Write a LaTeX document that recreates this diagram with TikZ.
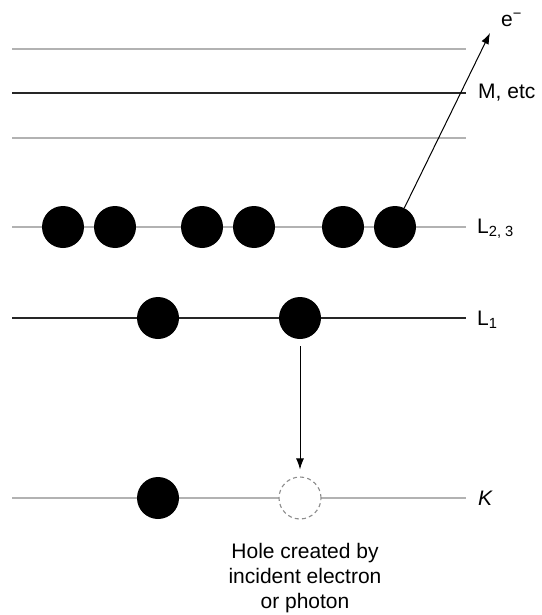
\documentclass[tikz,border=0pt]{standalone}
\usepackage{fontspec}
\setmainfont{Liberation Sans}
\usetikzlibrary{positioning,arrows.meta}

\begin{document}
\begin{tikzpicture}[x=1pt,y=-1pt,
  shell/.style={gray!60,line width=2.6pt},
  subshell/.style={black!85,line width=1.4pt},
  electron/.style={circle,fill=black,minimum size=42pt,inner sep=0pt},
  vacancy/.style={circle,draw=gray!90,dash pattern=on 4pt off 3.2pt,fill=white,minimum size=42pt,inner sep=0pt,line width=1.1pt},
  lbl/.style={anchor=west,inner sep=0pt,font=\fontsize{21}{25}\selectfont},
  jump/.style={-{Latex[length=11pt,width=8pt]},line width=1pt}]
\useasboundingbox (0,0) rectangle (541,615);

% Levels
\draw[shell] (12,49) -- (466,49);
\draw[subshell] (12,93) -- (466,93);
\draw[shell] (12,138) -- (466,138);
\draw[shell] (12,227) -- (466,227);
\draw[subshell] (12,318) -- (466,318);
\draw[shell] (12,498) -- (466,498);

% Electrons
\foreach \x [count=\i] in {63,115,202,254,343,395}
  \node[electron] (L\i) at (\x,227) {};
\node[electron] (La) at (158,318) {};
\node[electron] (Lb) at (300,318) {};
\node[electron] (Ka) at (158,498) {};
\node[vacancy] (hole) at (300,498) {};

% Transitions
\coordinate (escape) at (490,33);
\draw[jump] (L6) -- (escape);
\draw[jump,shorten <=7pt,shorten >=7pt] (Lb) -- (hole);

% Labels
\node[lbl] (eout) at (501,20) {e\textsuperscript{−}};
\node[lbl] (mlbl) at (478,93) {M, etc};
\node[lbl] (l23lbl) at (477,229) {L\textsubscript{2, 3}};
\node[lbl] (l1lbl) at (477,320) {L\textsubscript{1}};
\node[lbl] (klbl) at (478,498) {\textit{K}};
\node[below=24pt of hole,xshift=5pt,inner sep=0pt,align=center,
  font=\fontsize{21}{25}\selectfont] (caption)
  {Hole created by\\incident electron\\or photon};
\end{tikzpicture}
\end{document}
